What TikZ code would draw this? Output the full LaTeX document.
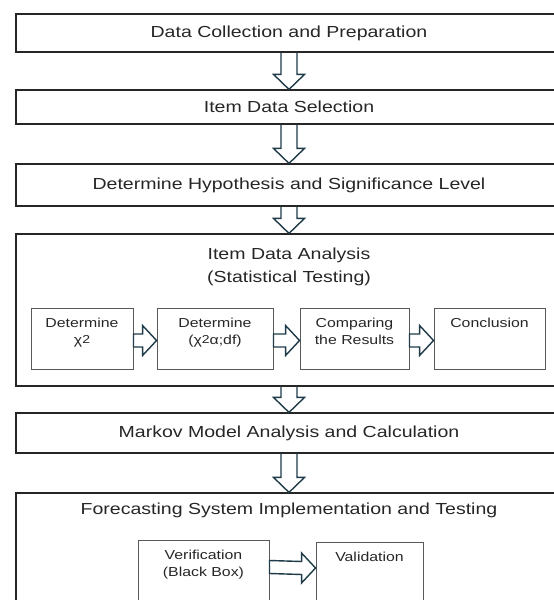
\documentclass[tikz,border=0pt]{standalone}
\usepackage{fontspec}
\setmainfont{Liberation Sans}[FakeStretch=1.22]
\usetikzlibrary{calc}

\definecolor{arrowslate}{HTML}{1F3A48}
\definecolor{inkgray}{HTML}{262626}

\newcommand{\sqtwo}{\raisebox{1.5pt}{\fontsize{11.5}{11.5}\selectfont 2}}

\tikzset{
  stage/.style={draw=black!85, line width=1.2pt, minimum width=546, inner sep=0pt,
    font=\fontsize{16}{23}\selectfont, text=inkgray, align=center},
  stagetitle/.style={anchor=north, inner sep=0pt, align=center,
    font=\fontsize{16}{23}\selectfont, text=inkgray},
  substep/.style={draw=black!65, line width=0.9pt, inner sep=0pt},
  steptext/.style={anchor=north, inner sep=0pt, align=center,
    font=\fontsize{13}{17.5}\selectfont, text=inkgray},
  blockarrow/.style={draw=arrowslate, line width=1.4pt, line join=miter}
}

% hollow block arrows between boxes
\newcommand{\downblock}[2]{%
  \draw[blockarrow] ($(#1.south)+(-8,0)$) -- ($(#2.north)+(-8,15)$)
    -- ($(#2.north)+(-15.5,15)$) -- (#2.north) -- ($(#2.north)+(15.5,15)$)
    -- ($(#2.north)+(8,15)$) -- ($(#1.south)+(8,0)$);}
\newcommand{\rightblock}[3][0]{%
  \draw[blockarrow] ($(#2.east)+(0,#1+6.5)$) -- ($(#3.west)+(-14,#1+6.5)$)
    -- ($(#3.west)+(-14,#1+15)$) -- ($(#3.west)+(0,#1)$) -- ($(#3.west)+(-14,#1-15)$)
    -- ($(#3.west)+(-14,#1-6.5)$) -- ($(#2.east)+(0,#1-6.5)$) -- cycle;}

\begin{document}
\begin{tikzpicture}[x=1pt,y=1pt]
  \clip (0,0) rectangle (554,600);

  \node[stage, minimum height=38] (collect) at (289,567) {Data Collection and Preparation};
  \node[stage, minimum height=34] (select) at (289,493) {Item Data Selection};
  \node[stage, minimum height=42] (hypo) at (289,415) {Determine Hypothesis and Significance Level};

  % statistical testing
  \node[stage, minimum height=152] (analysis) at (289,290) {};
  \node[stagetitle] (analysistitle) at ($(analysis.north)+(0,-14)$) {Item Data Analysis\\(Statistical Testing)};
  \node[substep, minimum width=102, minimum height=61] (chisq) at (82,261.5) {};
  \node[substep, minimum width=116, minimum height=61] (chitab) at (215,261.5) {};
  \node[substep, minimum width=109, minimum height=61] (compare) at (354.5,261.5) {};
  \node[substep, minimum width=111, minimum height=61] (conclude) at (489.5,261.5) {};
  \node[steptext] (chisqtext) at ($(chisq.north)+(0,-10)$) {Determine\\χ\sqtwo};
  \node[steptext] (chitabtext) at ($(chitab.north)+(0,-10)$) {Determine\\(χ\sqtwo α;df)};
  \node[steptext] (comparetext) at ($(compare.north)+(0,-10)$) {Comparing\\the Results};
  \node[steptext] (concludetext) at ($(conclude.north)+(0,-10)$) {Conclusion};

  \node[stage, minimum height=40] (markov) at (289,167) {Markov Model Analysis and Calculation};

  % implementation and testing
  \node[stage, minimum height=160] (forecast) at (289,27) {};
  \node[stagetitle] (forecasttitle) at ($(forecast.north)+(0,-10)$) {Forecasting System Implementation and Testing};
  \node[substep, minimum width=131, minimum height=64] (verify) at (203.5,28) {};
  \node[substep, minimum width=107, minimum height=62] (validate) at (369.5,27) {};
  \node[steptext] (verifytext) at ($(verify.north)+(0,-10)$) {Verification\\(Black Box)};
  \node[steptext] (validatetext) at ($(validate.north)+(0,-10)$) {Validation};

  \downblock{collect}{select}
  \downblock{select}{hypo}
  \downblock{hypo}{analysis}
  \downblock{analysis}{markov}
  \downblock{markov}{forecast}

  \rightblock[-2]{chisq}{chitab}
  \rightblock[-2]{chitab}{compare}
  \rightblock[-2]{compare}{conclude}
  \rightblock[5]{verify}{validate}
\end{tikzpicture}
\end{document}
